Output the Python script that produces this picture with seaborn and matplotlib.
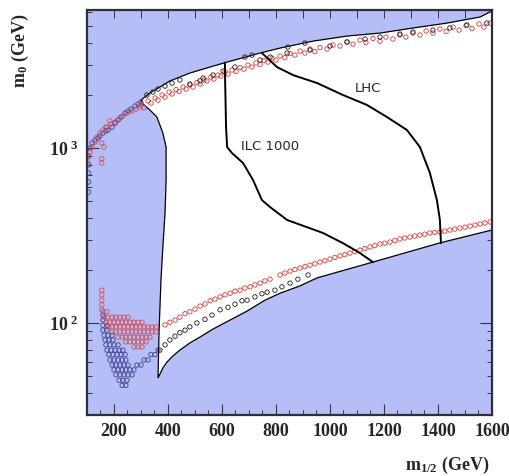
import matplotlib
matplotlib.use("Agg")
import matplotlib.pyplot as plt
import seaborn as sns
import pandas as pd
from matplotlib.ticker import FixedLocator, LogLocator, NullFormatter

# ---------------- data (GeV) ----------------
# allowed (white) region boundary
upper_bx = [300, 333, 370, 407, 481, 556, 619, 741, 815, 937, 1063, 1185, 1307, 1433, 1556, 1600]
upper_by = [1879, 2061, 2232, 2416, 2683, 2904, 3100, 3490, 3727, 4083, 4365, 4539, 4853, 5176, 5610, 6067]
left_bx = [300, 304, 333, 359, 381, 393, 393, 389, 381, 374, 367, 363]
left_by = [1879, 1807, 1648, 1504, 1218, 1013, 656, 425, 272, 176, 91, 48.5]
lower_bx = [363, 381, 396, 418, 444, 481, 519, 567, 630, 693, 759, 815, 889, 952, 1159, 1407, 1600]
lower_by = [48.5, 55.3, 59.8, 64.8, 70, 76.9, 83.2, 92.4, 104, 117, 135, 148, 163, 181, 223, 287, 340]

# reach contours
ilc_x = [611, 611, 615, 619, 637, 678, 715, 748, 778, 841, 974, 1048, 1111, 1159]
ilc_y = [3080, 2683, 1318, 1013, 936, 821, 656, 504, 460, 388, 327, 286, 251, 223]
lhc_x = [748, 804, 863, 952, 1048, 1137, 1211, 1285, 1333, 1370, 1396, 1407, 1411]
lhc_y = [3490, 2901, 2612, 2352, 2009, 1762, 1504, 1267, 1013, 720, 504, 388, 286]

# upper band scan points
upper_red_x = [300, 326, 352, 378, 404, 430, 456, 481, 507, 533, 559, 585, 611, 637, 667, 696, 726, 756, 785,
               815, 852, 889, 926, 963, 1011, 1063, 1111, 1159, 1207, 1259, 1307, 1356, 1407, 1456, 1504, 1552, 1593]
upper_red_y = [1762, 1857, 1931, 2009, 2089, 2158, 2232, 2291, 2366, 2449, 2547, 2612, 2716, 2792, 2884, 2979,
               3062, 3162, 3267, 3357, 3467, 3581, 3680, 3750, 3878, 4037, 4140, 4227, 4307, 4426, 4539, 4667,
               4786, 4909, 5012, 5117, 5176]
upper_red2_x = [311, 337, 363, 389, 415, 441, 467, 493, 519, 544, 570, 596, 622, 652, 681, 711, 741, 770, 800,
                833, 870, 907, 944, 989, 1037, 1085, 1133, 1185, 1233, 1281, 1333, 1381, 1430, 1478, 1526, 1570]
upper_red2_y = [1702, 1807, 1879, 1955, 2036, 2104, 2173, 2232, 2321, 2416, 2479, 2576, 2648, 2735, 2826, 2904,
                3000, 3100, 3184, 3289, 3397, 3490, 3556, 3680, 3828, 3926, 4009, 4083, 4198, 4307, 4426, 4539,
                4634, 4721, 4819, 4909]
ul_red_x = [104, 104, 111, 119, 130, 137, 148, 159, 174, 189, 204, 219, 233, 248, 267, 281, 296,
            155, 155, 155, 163, 170, 185]
ul_red_y = [821, 889, 948, 1013, 1082, 1155, 1218, 1267, 1318, 1371, 1408, 1465, 1524, 1585, 1627, 1671, 1714,
            821, 870, 1068, 1013, 1318, 1430]
ul_navy_x = [106, 106, 106, 106, 106, 111, 119, 130, 141, 148, 159, 170, 178, 193, 204, 215, 226, 241, 252,
             263, 278, 289, 300]
ul_navy_y = [560, 640, 720, 800, 900, 1000, 1068, 1111, 1140, 1171, 1218, 1251, 1267, 1318, 1389, 1445, 1504,
             1585, 1627, 1671, 1738, 1783, 1832]
tip_black_x = [322, 344, 363, 389, 415, 444]
tip_black_y = [2009, 2089, 2173, 2260, 2351, 2449]
upper_black_x = [481, 519, 530, 567, 604, 648, 685, 711, 741, 778, 844, 841, 907, 926, 1000, 1063, 1130, 1185,
                 1259, 1307, 1381, 1444, 1507, 1581]
upper_black_y = [2320, 2420, 2512, 2612, 2754, 2904, 3311, 3397, 3184, 3311, 3776, 3490, 3981, 3631, 3828, 4037,
                 4198, 4307, 4481, 4600, 4721, 4853, 5047, 5176]

# lower band scan points
lower_red_x = [389, 407, 426, 444, 463, 481, 500, 519, 537, 556, 574, 593, 611, 630, 648, 667, 685, 704, 722,
               741, 759, 778, 815, 852, 889, 926, 963, 1000, 1037, 1074, 1111, 1148, 1185, 1222, 1259, 1296,
               1333, 1370, 1407, 1444, 1481, 1519, 1556, 1593]
lower_red_y = [97.5, 101, 104, 108, 113, 116, 120, 125, 128.5, 134, 137, 141, 145, 148, 152, 154, 158.5, 161,
               165, 169, 174, 178, 188, 198, 206, 214, 223, 232, 242, 251, 261, 272, 283, 290, 302, 310, 318,
               327, 331, 340, 349, 358, 368, 378]
lower_red2_x = [833, 870, 907, 944, 981, 1018, 1055, 1092, 1129, 1166, 1203, 1240, 1277, 1314, 1351, 1388,
                1425, 1462, 1500, 1537, 1574]
lower_red2_y = [193, 202, 210, 218, 227, 237, 246, 256, 266, 277, 286, 296, 306, 314, 322, 329, 335, 344,
                353, 363, 373]
lower_black_x = [370, 389, 407, 426, 444, 463, 481, 507, 537, 563, 593, 622, 648, 674, 693, 722, 748, 767,
                 796, 822, 852, 881, 919]
lower_black_y = [70, 75, 80, 84, 88, 91, 95, 100, 105, 111, 119, 123, 128, 134, 135, 141, 147, 150, 154, 161,
                 169, 178, 188]
red_col_x = [155, 155, 155, 155, 155]
red_col_y = [154, 145, 135, 127, 119]
red_rows_y = [116, 108, 101, 95, 89, 83, 78, 73]
red_rows_x = [[159, 174], [163, 178, 193, 207, 222, 237, 252],
              [170, 185, 200, 215, 230, 244, 259, 274, 289, 304],
              [178, 193, 207, 222, 237, 252, 267, 281, 296, 311, 326, 341, 356],
              [193, 207, 222, 237, 252, 267, 281, 296, 311, 326, 341, 356],
              [215, 230, 244, 259, 274, 289, 304, 319, 333],
              [244, 259, 274, 289, 304, 319], [274, 289, 304]]
navy_rows_y = [111, 104, 97, 91, 85, 80, 75, 70, 66, 61.5, 57.5, 54, 50.5, 47, 44]
navy_rows_x = [[159], [159], [159, 174], [159, 174], [163, 178, 193], [167, 181, 196],
               [170, 185, 200, 215], [174, 189, 204, 219, 233, 363], [181, 196, 211, 226, 241, 337, 352],
               [185, 200, 215, 230, 244, 311, 326], [193, 207, 222, 237, 252, 285, 300],
               [200, 215, 230, 244, 259, 274], [207, 222, 237, 252, 267], [219, 233, 248], [230, 244]]

xtick_vals = [200, 400, 600, 800, 1000, 1200, 1400, 1600]
ytick_vals = [100, 1000]
ytick_labels = [r"$\mathbf{10^{\ 2}}$", r"$\mathbf{10^{\ 3}}$"]

# ---------------- style ----------------
sns.set_style("ticks")
plt.rcParams["font.family"] = ["Liberation Serif", "DejaVu Serif"]
plt.rcParams["mathtext.fontset"] = "custom"
plt.rcParams["mathtext.rm"] = "Liberation Serif:bold"
plt.rcParams["mathtext.it"] = "Liberation Serif:bold"
plt.rcParams["mathtext.bf"] = "Liberation Serif:bold"

fig = plt.figure(figsize=(5.1, 4.76), dpi=100)
ax = fig.add_axes([87 / 510, 1 - 415 / 476, 405 / 510, 405 / 476])
ax.set_facecolor("#b6bef8")
ax.set_yscale("log")

# allowed region
poly_x = upper_bx + lower_bx[::-1] + left_bx[::-1]
poly_y = upper_by + lower_by[::-1] + left_by[::-1]
ax.fill(poly_x, poly_y, facecolor="white", edgecolor="black", linewidth=0.9, zorder=1)

RED, NAVY, BLACK = "#d23c3c", "#40438e", "#1e1e1e"


def circles(xs, ys, color, alpha=1.0):
    sns.scatterplot(x=xs, y=ys, ax=ax, marker="o", s=10, facecolor="none", edgecolor=color,
                    linewidth=0.6, alpha=alpha, zorder=3, legend=False)


nav_x = [x for row, y in zip(navy_rows_x, navy_rows_y) for x in row]
nav_y = [y for row, y in zip(navy_rows_x, navy_rows_y) for x in row]
rc_x = [x for row, y in zip(red_rows_x, red_rows_y) for x in row]
rc_y = [y for row, y in zip(red_rows_x, red_rows_y) for x in row]

circles(nav_x, nav_y, NAVY)
circles(ul_navy_x, ul_navy_y, NAVY)
circles(rc_x, rc_y, RED, 0.85)
circles(red_col_x, red_col_y, RED, 0.85)
circles(ul_red_x, ul_red_y, RED, 0.85)
circles(upper_red_x, upper_red_y, RED)
circles(upper_red2_x, upper_red2_y, RED)
circles(lower_red_x, lower_red_y, RED)
circles(lower_red2_x, lower_red2_y, RED)
circles(lower_black_x, lower_black_y, BLACK)
circles(tip_black_x, tip_black_y, BLACK)
circles(upper_black_x, upper_black_y, BLACK)

# reach contours
sns.lineplot(x=ilc_x, y=ilc_y, sort=False, estimator=None, color="black", linewidth=1.4, ax=ax, zorder=4)
sns.lineplot(x=lhc_x, y=lhc_y, sort=False, estimator=None, color="black", linewidth=1.4, ax=ax, zorder=4)
ax.text(778, 1026, "ILC 1000", ha="center", va="center", fontsize=9.5, family="DejaVu Sans", zorder=5)
ax.text(1141, 2202, "LHC", ha="center", va="center", fontsize=9.5, family="DejaVu Sans", zorder=5)

ax.set_xlim(100, 1600)
ax.set_ylim(29.8, 6150)

# ticks
ax.xaxis.set_major_locator(FixedLocator(xtick_vals))
ax.set_xticklabels([str(v) for v in xtick_vals], fontsize=13, fontweight="bold")
ax.xaxis.set_minor_locator(FixedLocator(list(range(150, 1600, 50))))
ax.yaxis.set_major_locator(FixedLocator(ytick_vals))
ax.set_yticklabels(ytick_labels, fontsize=13)
ax.yaxis.set_minor_locator(LogLocator(base=10, subs=range(2, 10)))
ax.yaxis.set_minor_formatter(NullFormatter())
ax.tick_params(axis="x", which="major", direction="in", length=8, width=0.8, color="#333344", pad=6,
               top=False, bottom=True)
ax.tick_params(axis="x", which="minor", direction="in", length=3.8, width=0.7, color="#333344",
               top=False, bottom=True)
ax.tick_params(axis="y", which="major", direction="in", length=8.5, width=0.8, color="#333344", pad=6,
               left=True, right=True)
ax.tick_params(axis="y", which="minor", direction="in", length=3.8, width=0.7, color="#333344",
               left=True, right=True)
sec = ax.secondary_xaxis("top")
sec.xaxis.set_major_locator(FixedLocator(list(range(100, 1700, 100))))
sec.tick_params(direction="in", length=6, width=0.7, color="#333344", labeltop=False)
for sp in sec.spines.values():
    sp.set_visible(False)

for sp in ax.spines.values():
    sp.set_linewidth(1.6)
    sp.set_color("#2e2e3e")
    sp.set_zorder(6)

ax.set_xlabel("")
ax.set_ylabel("")
fig.text(20 / 510, 1 - 50 / 476, r"$\mathbf{m_0\ (GeV)}$", rotation=90, ha="center", va="center", fontsize=13)
fig.text(447 / 510, 1 - 465 / 476, r"$\mathbf{m_{1/2}\ (GeV)}$", ha="center", va="center", fontsize=13)

fig.savefig("out.png", dpi=100)
